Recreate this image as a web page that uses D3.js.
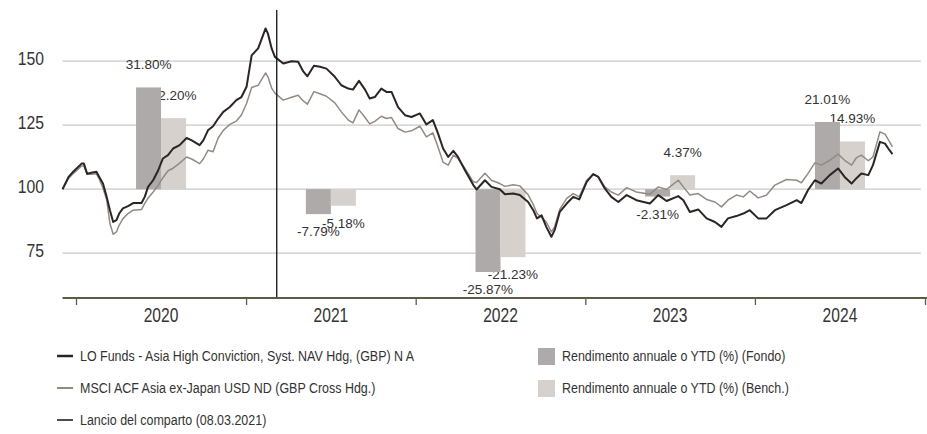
<!DOCTYPE html>
<html>
<head>
<meta charset="utf-8">
<script src="https://cdn.jsdelivr.net/npm/d3@7"></script>
<style>
  html, body { margin: 0; padding: 0; background: #fff; }
  svg { display: block; }
  text { font-family: "Liberation Sans", Arial, sans-serif; }
</style>
</head>
<body>
<svg id="chart" width="927" height="434"></svg>
<script>
// serie settimanali (base 100)
var dates = ['2019-12-03','2019-12-16','2019-12-26','2020-01-13','2020-01-18','2020-01-25','2020-02-03','2020-02-14','2020-02-20','2020-02-28',
  '2020-03-07','2020-03-14','2020-03-21','2020-03-28','2020-04-03','2020-04-11','2020-04-22','2020-05-03','2020-05-21','2020-05-28',
  '2020-06-04','2020-06-15','2020-06-26','2020-07-06','2020-07-17','2020-07-28','2020-08-11','2020-08-26','2020-09-06','2020-09-23',
  '2020-10-01','2020-10-11','2020-10-22','2020-11-02','2020-11-13','2020-11-27','2020-12-11','2020-12-22','2021-01-02','2021-01-13',
  '2021-01-27','2021-02-12','2021-02-17','2021-02-25','2021-03-04','2021-03-22','2021-04-09','2021-04-23','2021-05-04','2021-05-13',
  '2021-05-27','2021-06-09','2021-06-23','2021-07-11','2021-07-25','2021-08-09','2021-08-19','2021-09-01','2021-09-14','2021-09-24',
  '2021-10-05','2021-10-19','2021-10-30','2021-11-10','2021-11-24','2021-12-09','2021-12-23','2022-01-10','2022-01-24','2022-02-07',
  '2022-02-18','2022-03-01','2022-03-12','2022-03-23','2022-04-02','2022-04-17','2022-05-05','2022-05-12','2022-05-30','2022-06-13',
  '2022-07-01','2022-07-12','2022-07-30','2022-08-13','2022-08-31','2022-09-11','2022-09-19','2022-09-29','2022-10-09','2022-10-20',
  '2022-10-27','2022-11-07','2022-11-22','2022-12-06','2022-12-19','2023-01-04','2023-01-18','2023-01-29','2023-02-12','2023-02-26',
  '2023-03-13','2023-03-31','2023-04-21','2023-05-20','2023-06-07','2023-06-25','2023-07-20','2023-07-31','2023-08-14','2023-09-01',
  '2023-09-19','2023-10-07','2023-10-21','2023-11-04','2023-11-22','2023-12-07','2023-12-21','2024-01-08','2024-01-26','2024-02-13',
  '2024-03-09','2024-03-31','2024-04-10','2024-04-24','2024-05-09','2024-05-23','2024-06-10','2024-06-28','2024-07-12','2024-07-27',
  '2024-08-06','2024-08-17','2024-09-01','2024-09-11','2024-09-26','2024-10-07','2024-10-14','2024-10-23'];

var fundValues = [100,104.8,106.8,110,110,106,106.4,106.8,104.8,102.2,
  97,91.8,87.2,87.9,90.5,92.5,93.4,94.6,94.6,97,
  100.9,103.5,107.4,112,113.3,115.9,117.2,120,119.1,117.2,
  119.1,123,124.6,127.6,130.2,132.1,134.8,136,140,152.3,
  155,162.8,160.8,155,151.7,149.1,150,149.8,146,144.1,
  148.2,147.8,147.1,143.9,140.6,139.3,138.9,142.3,138.9,135.4,
  136,139.3,138,138,132.1,128.9,128.2,129.6,125.3,127,
  121.8,115.9,112.6,115,112.6,107.4,101.6,99.9,103.5,100.9,
  100,98,98.3,97.7,95,91.8,88.6,89.8,85.3,81.4,
  84,91.1,94.4,97,96,102.9,105.9,104.8,100.3,97,
  95,97.7,95.7,94.4,97.7,95.4,97.3,95.7,91.1,92.1,
  88.6,87.2,85.3,88.6,89.5,90.5,91.8,88.6,88.6,91.8,
  93.8,95.7,94.6,99.6,103.5,102.2,105.5,108.1,104.8,102.2,
  104.2,106.1,105.5,109.4,118.5,117.8,115.9,113.7];

var benchValues = [100,104.2,106.1,109.1,109.1,105.8,105.8,106,104,100.5,
  96,86.6,82.4,83.3,86,88.5,90.5,91.8,92.1,94.5,
  96.5,98.9,101.5,104.5,107.2,108.2,110.2,112.6,111.8,110,
  111.8,115.2,114.6,120,123,125.3,126.6,129,133.5,139.7,
  140.6,145.4,143.9,139.5,137.5,134.8,135.9,136.7,134.5,133.2,
  138.1,137.3,136.3,133.7,130.2,127,125.9,131,128,125.5,
  126.5,128.5,127.6,128,123.7,122.3,122.8,124.6,120.4,122,
  116.5,110.5,109.4,113.3,112,108.1,102.9,102.6,106.2,103.5,
  102.2,101.1,101.7,101.3,97.8,94,90.5,89,87.2,83.3,
  85.3,92.1,96.4,98.3,97,103.5,105.9,104.8,100.9,98.9,
  97.7,100.6,98.9,98,100.9,99.9,103.5,100.9,97.7,98.3,
  96,95,93.1,95.7,97.7,97,99.3,96.6,97.7,101.6,
  103.8,103.5,102.5,106.1,110.3,109.4,111.3,113.7,111.3,109.4,
  112.2,113.3,111.1,112.6,122.4,121.5,119.4,116.5];

// rendimenti annuali / YTD (%)
var years = ['2020', '2021', '2022', '2023', '2024'];
var fundReturns = [31.80, -7.79, -25.87, -2.31, 21.01];
var benchReturns = [22.20, -5.18, -21.23, 4.37, 14.93];

var yTicks = [75, 100, 125, 150];
var launchDate = '2021-03-08';

var lineLabels = ['LO Funds - Asia High Conviction, Syst. NAV Hdg, (GBP) N A',
  'MSCI ACF Asia ex-Japan USD ND (GBP Cross Hdg.)',
  'Lancio del comparto (08.03.2021)'];
var barLabels = ['Rendimento annuale o YTD (%) (Fondo)',
  'Rendimento annuale o YTD (%) (Bench.)'];

var colFund = '#2d2424', colBench = '#948a84', colBarFund = '#aeaaa9', colBarBench = '#d6d1cd';

var parse = d3.timeParse('%Y-%m-%d');
var svg = d3.select('#chart');

// testo "condensato": nessun font narrow installato, quindi scala orizzontale
function narrowText(parent, px, py, sx, size, anchor, str) {
  return parent.append('g')
    .attr('transform', 'translate(' + px + ',' + py + ') scale(' + sx + ',1)')
    .append('text')
    .attr('text-anchor', anchor)
    .attr('font-size', size).attr('fill', '#333')
    .text(str);
}

var x = d3.scaleTime()
  .domain([parse('2020-01-01'), parse('2025-01-01')])
  .range([76, 925]);
var y = d3.scaleLinear().domain([57.5, 170]).range([298, 10]);
// asse secondario per le barre: zero allineato a 100
var yPct = d3.scaleLinear().domain([-34, 56]).range([298, 10]);

var left = x(parse(dates[0]));

// griglia
svg.append('g')
  .selectAll('line').data(yTicks).enter().append('line')
  .attr('x1', left).attr('x2', 921)
  .attr('y1', function(d) { return y(d); })
  .attr('y2', function(d) { return y(d); })
  .attr('stroke', '#c9c9c9').attr('stroke-width', 1.2);

var gy = svg.append('g');
yTicks.forEach(function(t) {
  narrowText(gy, 44, y(t) + 3.5, 0.85, 18.5, 'end', t);
});

// barre
var yearStart = function(i) { return parse(years[i] + '-01-01'); };
var yearMid = function(i) { return x(yearStart(i)) + (x(parse((+years[i] + 1) + '-01-01')) - x(yearStart(i))) / 2; };
var barW = (x(parse('2021-01-01')) - x(parse('2020-01-01'))) * 0.147;

var barData = [];
years.forEach(function(yr, i) {
  barData.push({ i: i, v: fundReturns[i], off: -1, col: colBarFund });
  barData.push({ i: i, v: benchReturns[i], off: 0, col: colBarBench });
});

// etichette sotto le barre (coperte in parte, come nell'originale)
svg.append('g')
  .selectAll('text').data(barData).enter().append('text')
  .attr('x', function(d) { return yearMid(d.i) + d.off * barW + barW / 2; })
  .attr('y', function(d) { return d.v >= 0 ? yPct(d.v) - 18 : yPct(d.v) + 22; })
  .attr('text-anchor', 'middle')
  .attr('font-size', 13.5).attr('fill', '#333')
  .text(function(d) { return d.v.toFixed(2) + '%'; });

svg.append('g')
  .selectAll('rect').data(barData).enter().append('rect')
  .attr('x', function(d) { return yearMid(d.i) + d.off * barW; })
  .attr('width', barW)
  .attr('y', function(d) { return yPct(Math.max(0, d.v)); })
  .attr('height', function(d) { return Math.abs(yPct(d.v) - yPct(0)); })
  .attr('fill', function(d) { return d.col; });

// linee
var line = d3.line()
  .x(function(d) { return x(d.date); })
  .y(function(d) { return y(d.v); });

var bench = dates.map(function(d, i) { return { date: parse(d), v: benchValues[i] }; });
var fund = dates.map(function(d, i) { return { date: parse(d), v: fundValues[i] }; });

svg.append('path').datum(bench)
  .attr('d', line).attr('fill', 'none')
  .attr('stroke', colBench).attr('stroke-width', 1.5).attr('stroke-linejoin', 'round');
svg.append('path').datum(fund)
  .attr('d', line).attr('fill', 'none')
  .attr('stroke', colFund).attr('stroke-width', 2).attr('stroke-linejoin', 'round');

// lancio del comparto
var xl = x(parse(launchDate));
svg.append('line')
  .attr('x1', xl).attr('x2', xl).attr('y1', 10).attr('y2', 298)
  .attr('stroke', '#111').attr('stroke-width', 1.3);

// asse x
var xAxis = d3.axisBottom(x)
  .tickValues(years.concat(['2025']).map(function(yr) { return parse(yr + '-01-01'); }))
  .tickSize(7).tickFormat('');
var gx = svg.append('g').attr('transform', 'translate(0,298)').call(xAxis);
gx.select('.domain').remove();
gx.selectAll('.tick line').attr('stroke', '#5c5c4a').attr('stroke-width', 1.3);
gx.append('line').attr('x1', left).attr('x2', 927)
  .attr('stroke', '#5c5c4a').attr('stroke-width', 1.8);

var gyr = svg.append('g');
years.forEach(function(yr, i) {
  narrowText(gyr, yearMid(i), 322, 0.8, 19.5, 'middle', yr);
});

// legenda
var lg = svg.append('g');
var lineSw = [
  { col: colFund, w: 2.5, y: 356, label: lineLabels[0] },
  { col: colBench, w: 2, y: 388, label: lineLabels[1] },
  { col: '#111', w: 1.5, y: 420, label: lineLabels[2] }
];
lineSw.forEach(function(s) {
  lg.append('line').attr('x1', 57).attr('x2', 73).attr('y1', s.y).attr('y2', s.y)
    .attr('stroke', s.col).attr('stroke-width', s.w);
  narrowText(lg, 80, s.y + 5, 0.89, 14, 'start', s.label);
});
[colBarFund, colBarBench].forEach(function(c, i) {
  lg.append('rect').attr('x', 538).attr('y', 348 + i * 32).attr('width', 17).attr('height', 17)
    .attr('fill', c);
  narrowText(lg, 562, 361 + i * 32, 0.89, 14, 'start', barLabels[i]);
});
</script>
</body>
</html>
